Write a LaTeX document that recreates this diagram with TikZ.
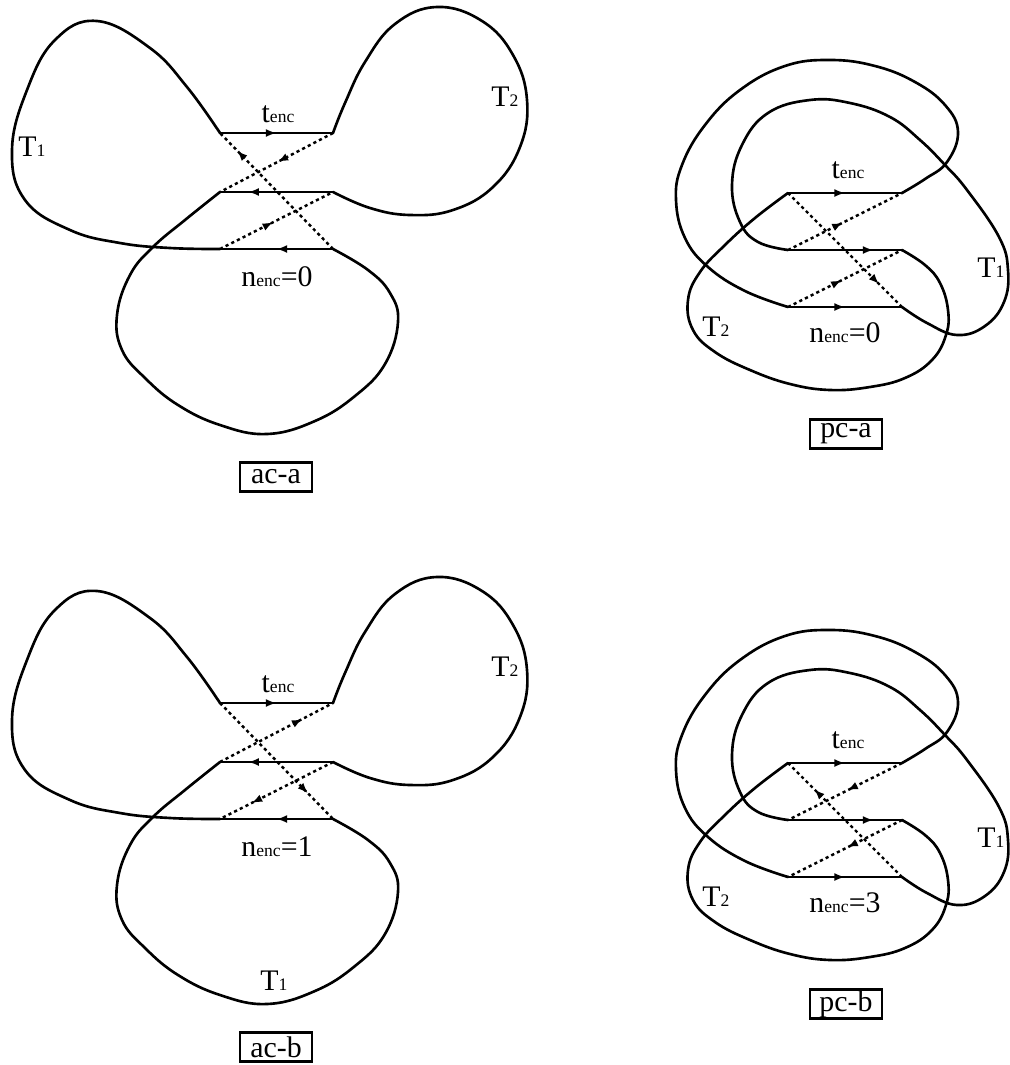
\documentclass[tikz,border=0pt]{standalone}
\usepackage{fontspec}
\setmainfont{Liberation Serif}
\usepackage{tikz}
\usetikzlibrary{arrows.meta, decorations.markings}

\newcommand{\subtxt}[1]{{\fontsize{10}{11}\selectfont #1}}

\begin{document}
\begin{tikzpicture}[x=0.02cm, y=-0.02cm, font=\fontsize{17}{20}\selectfont]
        % Define the styles for tracks, jumps and tags
        \tikzstyle{track}=[line width=1.5pt, line cap=round, line join=round]
        \tikzstyle{jump}=[line width=1.4pt, dash pattern=on 1.8pt off 1.8pt]
        \tikzstyle{tag}=[draw, line width=1.3pt, inner sep=0pt, minimum width=41pt, minimum height=16.5pt]
        \tikzset{tip/.style={postaction={decorate}, decoration={markings, mark=at position #1 with {\arrow{Latex[length=6pt, width=4.5pt]}}}}}

        \useasboundingbox (0,0) rectangle (1010,1065);

        % Define the ac panels and their loops
        \foreach \dy/\p in {0/acA, 570/acB} {
          \begin{scope}[shift={(0,\dy)}]
            \coordinate (\p-tl) at (220,133);
            \coordinate (\p-tr) at (333,133);
            \coordinate (\p-ml) at (220,192);
            \coordinate (\p-mr) at (333,192);
            \coordinate (\p-bl) at (220,249);
            \coordinate (\p-br) at (333,249);
            \draw[track] plot[smooth, tension=0.7] coordinates {(\p-tl) (187,87) (150,48) (97,21) (55,40) (27,90) (12,150) (25,200) (70,230) (120,243) (170,248) (\p-bl)};
            \draw[track] plot[smooth, tension=0.7] coordinates {(\p-tr) (345,103) (365,62) (395,24) (437,7) (482,21) (513,55) (527,100) (520,147) (493,187) (453,210) (410,215) (370,208) (\p-mr)};
            \draw[track] plot[smooth, tension=0.7] coordinates {(\p-ml) (185,220) (153,247) (130,275) (117,315) (122,350) (145,378) (178,405) (220,425) (267,434) (315,421) (355,396) (385,364) (398,322) (390,293) (368,270) (\p-br)};
            \draw[track, tip=0.5] (\p-tl) -- (\p-tr);
            \draw[track, tip=0.75] (\p-mr) -- (\p-ml);
            \draw[track, tip=0.5] (\p-br) -- (\p-bl);
          \end{scope}
        }

        % Define the pc panels and their loops
        \foreach \dy/\p in {0/pcA, 570/pcB} {
          \begin{scope}[shift={(0,\dy)}]
            \coordinate (\p-tl) at (788,193);
            \coordinate (\p-tr) at (902,193);
            \coordinate (\p-ml) at (788,250);
            \coordinate (\p-mr) at (902,250);
            \coordinate (\p-bl) at (788,307);
            \coordinate (\p-br) at (902,307);
            \draw[track] plot[smooth, tension=0.7] coordinates {(\p-tr) (925,179) (947,162) (958,132) (945,105) (915,82) (875,66) (830,60) (785,66) (740,90) (705,125) (682,165) (676,200) (685,238) (708,267) (745,291) (\p-bl)};
            \draw[track] plot[smooth, tension=0.7] coordinates {(\p-br) (927,323) (957,335) (985,326) (1004,302) (1008,270) (999,237) (967,190) (945,165) (920,140) (890,117) (850,103) (810,100) (768,113) (742,145) (732,185) (740,222) (758,242) (\p-ml)};
            \draw[track] plot[smooth, tension=0.7] coordinates {(\p-tl) (755,218) (725,245) (700,272) (688,300) (693,330) (715,352) (750,370) (790,384) (830,390) (870,387) (905,378) (932,360) (946,335) (948,310) (940,283) (925,265) (\p-mr)};
            \draw[track, tip=0.5] (\p-tl) -- (\p-tr);
            \draw[track, tip=0.75] (\p-ml) -- (\p-mr);
            \draw[track, tip=0.5] (\p-bl) -- (\p-br);
          \end{scope}
        }

        % Define the jumps
        \draw[jump, tip=0.85] (acA-br) -- (acA-tl);
        \draw[jump, tip=0.49] (acA-tr) -- (acA-ml);
        \draw[jump, tip=0.47] (acA-bl) -- (acA-mr);
        \draw[jump, tip=0.78] (acB-tl) -- (acB-br);
        \draw[jump, tip=0.73] (acB-ml) -- (acB-tr);
        \draw[jump, tip=0.72] (acB-mr) -- (acB-bl);
        \draw[jump, tip=0.8] (pcA-tl) -- (pcA-br);
        \draw[jump, tip=0.48] (pcA-ml) -- (pcA-tr);
        \draw[jump, tip=0.47] (pcA-bl) -- (pcA-mr);
        \draw[jump, tip=0.77] (pcB-br) -- (pcB-tl);
        \draw[jump, tip=0.48] (pcB-tr) -- (pcB-ml);
        \draw[jump, tip=0.48] (pcB-mr) -- (pcB-bl);

        % Define the labels
        \node (acA-T1) at (32,147) {T\subtxt{1}};
        \node (acA-T2) at (505,97) {T\subtxt{2}};
        \node (acA-t) at (278,114) {t\subtxt{enc}};
        \node (acA-n) at (277,277) {n\subtxt{enc}=0};
        \node[tag] (acA-tag) at (276,477) {ac-a};
        \node (acB-T2) at (505,667) {T\subtxt{2}};
        \node (acB-t) at (278,684) {t\subtxt{enc}};
        \node (acB-n) at (277,847) {n\subtxt{enc}=1};
        \node (acB-T1) at (274,981) {T\subtxt{1}};
        \node[tag] (acB-tag) at (276,1047) {ac-b};
        \node (pcA-t) at (848,170) {t\subtxt{enc}};
        \node (pcA-T1) at (991,268) {T\subtxt{1}};
        \node (pcA-T2) at (716,327) {T\subtxt{2}};
        \node (pcA-n) at (845,333) {n\subtxt{enc}=0};
        \node[tag] (pcA-tag) at (846,434) {pc-a};
        \node (pcB-t) at (848,740) {t\subtxt{enc}};
        \node (pcB-T1) at (991,838) {T\subtxt{1}};
        \node (pcB-T2) at (716,897) {T\subtxt{2}};
        \node (pcB-n) at (845,903) {n\subtxt{enc}=3};
        \node[tag] (pcB-tag) at (846,1004) {pc-b};
    \end{tikzpicture}
\end{document}
